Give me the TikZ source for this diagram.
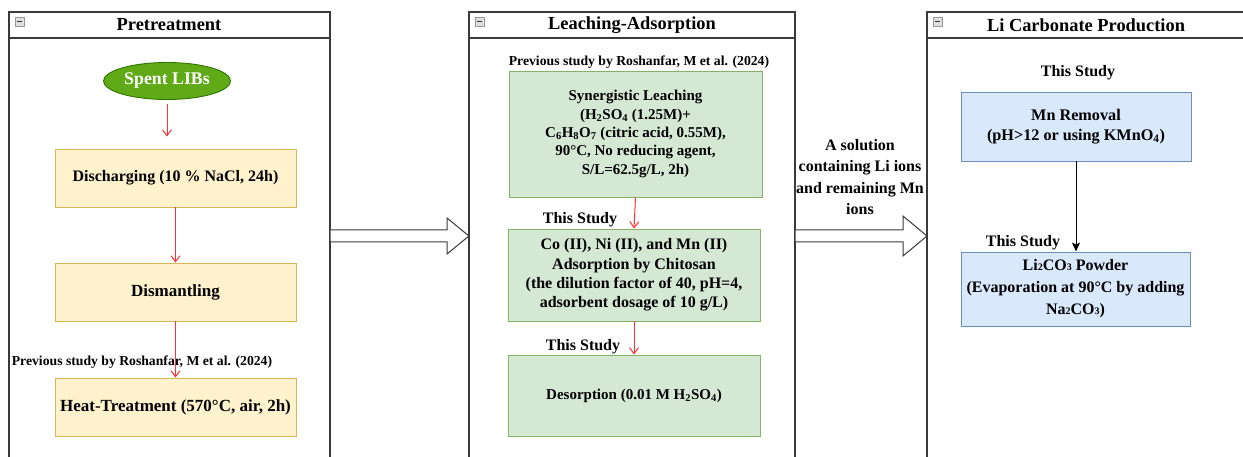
\documentclass[tikz,border=0pt]{standalone}
\usepackage{fontspec}
\setmainfont{Liberation Serif}
\usetikzlibrary{arrows.meta,shapes.geometric,calc}
\definecolor{panelgray}{HTML}{3A3A3A}
\definecolor{libfill}{HTML}{60A917}
\definecolor{libdraw}{HTML}{2D7600}
\definecolor{yfill}{HTML}{FFF2CC}
\definecolor{ydraw}{HTML}{D6B656}
\definecolor{gfill}{HTML}{D5E8D4}
\definecolor{gdraw}{HTML}{82B366}
\definecolor{bfill}{HTML}{DAE8FC}
\definecolor{bdraw}{HTML}{6C8EBF}
\definecolor{redline}{HTML}{FF3333}
\newcommand{\mysub}[1]{\textsubscript{#1}}
\newcommand{\mysmall}[1]{{\fontsize{10}{10}\selectfont #1}}
\newcommand{\fs}[2]{\fontsize{#1}{#2}\selectfont}
\begin{document}
\begin{tikzpicture}[x=1pt,y=-1pt,
  every node/.style={font=\bfseries},
  panel/.style={draw=panelgray, line width=1.2pt},
  title/.style={font=\bfseries\fs{18.4}{22}, inner sep=0pt},
  icon/.style={draw=gray!80, fill=gray!25, minimum size=9pt, inner sep=0pt, line width=0.6pt,
    path picture={\draw[line width=1pt, black!80] ([xshift=1.8pt]path picture bounding box.west) -- ([xshift=-1.8pt]path picture bounding box.east);}},
  ybox/.style={draw=ydraw, fill=yfill, line width=0.9pt, inner sep=0pt, align=center},
  gbox/.style={draw=gdraw, fill=gfill, line width=0.9pt, inner sep=0pt, align=center},
  bbox/.style={draw=bdraw, fill=bfill, line width=0.9pt, inner sep=0pt, align=center},
  note/.style={font=\bfseries\fs{13.7}{16}, inner sep=0pt},
  study/.style={font=\bfseries\fs{16}{18}, inner sep=0pt},
  redarr/.style={draw=redline, line width=1pt, -{Straight Barb[length=6pt,width=9pt,line width=1pt]}},
  blkarr/.style={draw=black, line width=1pt, -{Stealth[length=9pt,width=8pt,inset=2pt]}},
  hollow/.style={draw=panelgray, fill=white, line width=1pt, line join=miter}
]
\useasboundingbox (0,0) rectangle (1243,457);

% panels
\draw[panel] (9,458) |- (330,12) -- (330,458);
\draw[panel] (9,38) -- (330,38);
\draw[panel] (469,458) |- (795,12) -- (795,458);
\draw[panel] (469,38) -- (795,38);
\draw[panel] (927,458) |- (1250,12);
\draw[panel] (927,38) -- (1250,38);
\node[icon] (ic1) at (19.5,22) {};
\node[icon] (ic2) at (479.5,22) {};
\node[icon] (ic3) at (937.5,22) {};
\node[title] (t1) at (169,25) {Pretreatment};
\node[title] (t2) at (632,25) {Leaching-Adsorption};
\node[title] (t3) at (1086,25) {Li Carbonate Production};

% panel 1
\node[ellipse, draw=libdraw, fill=libfill, line width=0.9pt, minimum width=127pt, minimum height=37pt, inner sep=0pt, text=white, font=\bfseries\fs{17.8}{20}] (libs) at (167,81) {Spent LIBs};
\node[ybox, minimum width=241pt, minimum height=58pt, font=\bfseries\fs{16}{19}] (dis) at (175.5,178) {Discharging (10 \% NaCl, 24h)};
\node[ybox, minimum width=241pt, minimum height=58pt, font=\bfseries\fs{17}{20}] (dism) at (175.5,292) {Dismantling};
\node[ybox, minimum width=241pt, minimum height=58pt, font=\bfseries\fs{17}{20}] (heat) at (175.5,407) {Heat-Treatment (570°C, air, 2h)};
\node[note] (n1) at (142,362) {Previous study by Roshanfar, M et al. (2024)};
\draw[redarr, shorten <=4pt, shorten >=12pt] (libs.south) -- (libs.south |- dis.north);
\draw[redarr] (dis.south) -- (dism.north);
\draw[redarr] (dism.south) -- (heat.north);

% panel 2
\node[note] (n2) at (639,62) {Previous study by Roshanfar, M et al. (2024)};
\node[gbox, minimum width=253pt, minimum height=126pt, font=\bfseries\fs{15}{18.4}] (syn) at (635.5,134) {Synergistic Leaching\\(H\mysub{2}SO\mysub{4} (1.25M)+\\C\mysub{6}H\mysub{8}O\mysub{7} (citric acid, 0.55M),\\90°C, No reducing agent,\\S/L=62.5g/L, 2h)};
\node[gbox, minimum width=252pt, minimum height=92pt, font=\bfseries\fs{16}{19.4}] (co) at (634,275) {Co (II), Ni (II), and Mn (II)\\Adsorption by Chitosan\\(the dilution factor of 40, pH=4,\\adsorbent dosage of 10 g/L)};
\node[gbox, minimum width=252pt, minimum height=81pt, font=\bfseries\fs{15}{18}] (des) at (634,395.5) {Desorption (0.01 M H\mysub{2}SO\mysub{4})};
\node[study] (s1) at (580,220) {This Study};
\node[study] (s2) at (583,347) {This Study};
\draw[redarr] (syn.south) -- (co.north);
\draw[redarr] (co.south) -- (des.north);

% panel 3
\node[study] (s3) at (1078,73) {This Study};
\node[bbox, minimum width=230pt, minimum height=69pt, font=\bfseries\fs{16.2}{20}] (mn) at (1076,126.5) {Mn Removal\\(pH>12 or using KMnO\mysub{4})};
\node[study] (s4) at (1023,243) {This Study};
\node[bbox, minimum width=229pt, minimum height=74pt, font=\bfseries\fs{16}{22}] (li) at (1075.5,289) {Li\mysmall{2}CO\mysmall{3} Powder\\(Evaporation at 90°C by adding\\Na\mysmall{2}CO\mysmall{3})};
\draw[blkarr] (mn.south) -- (mn.south |- li.north);

% big hollow arrows between panels
\coordinate (a1s) at (330,236);
\coordinate (a1e) at (469,236);
\draw[hollow] ($(a1s)+(0,-6)$) -- ($(a1e)+(-22,-6)$) -- ($(a1e)+(-22,-18)$) -- (a1e) -- ($(a1e)+(-22,18)$) -- ($(a1e)+(-22,6)$) -- ($(a1s)+(0,6)$) -- cycle;
\coordinate (a2s) at (795,236);
\coordinate (a2e) at (927,236);
\draw[hollow] ($(a2s)+(0,-6)$) -- ($(a2e)+(-24,-6)$) -- ($(a2e)+(-24,-20)$) -- (a2e) -- ($(a2e)+(-24,20)$) -- ($(a2e)+(-24,6)$) -- ($(a2s)+(0,6)$) -- cycle;
\node[align=center, inner sep=0pt, font=\bfseries\fs{16}{21.5}] (sol) at (860,177) {A solution\\containing Li ions\\and remaining Mn\\ions};
\end{tikzpicture}
\end{document}
